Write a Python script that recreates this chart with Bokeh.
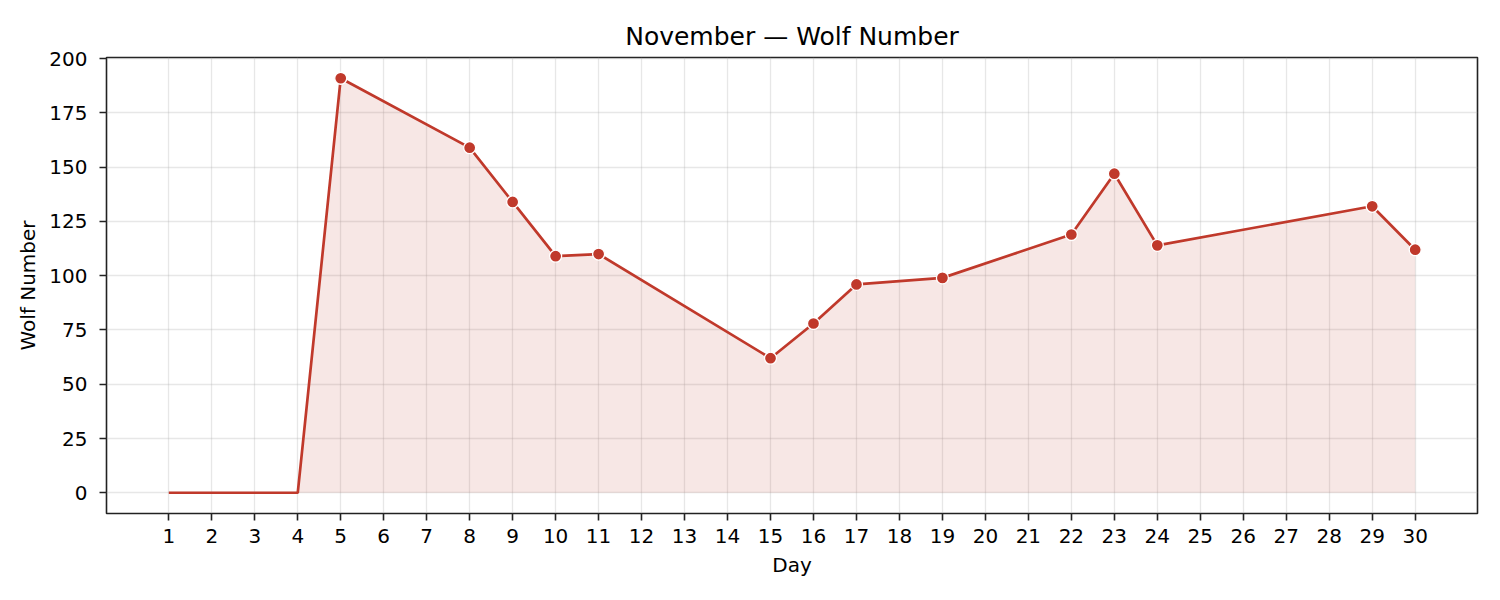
from bokeh.plotting import figure
from bokeh.models import Range1d, FixedTicker, ColumnDataSource
from bokeh.embed import file_html
from bokeh.resources import INLINE

# ---- data ----
obs_days = [1, 2, 3, 4, 5, 8, 9, 10, 11, 15, 16, 17, 19, 22, 23, 24, 29, 30]
wolf_number = [0, 0, 0, 0, 191, 159, 134, 109, 110, 62, 78, 96, 99, 119, 147, 114, 132, 112]
day_ticks = [1, 2, 3, 4, 5, 6, 7, 8, 9, 10, 11, 12, 13, 14, 15,
             16, 17, 18, 19, 20, 21, 22, 23, 24, 25, 26, 27, 28, 29, 30]
y_ticks = [0, 25, 50, 75, 100, 125, 150, 175, 200]

LINE = "#c0392b"
FONT = "DejaVu Sans"

src = ColumnDataSource(dict(x=obs_days, y=wolf_number, base=[0] * len(obs_days)))
mk = [(d, v) for d, v in zip(obs_days, wolf_number) if v > 0]
msrc = ColumnDataSource(dict(x=[m[0] for m in mk], y=[m[1] for m in mk]))

p = figure(width=1492, height=592, output_backend="svg", toolbar_location=None,
           x_range=Range1d(-0.45, 31.45), y_range=Range1d(-9.55, 200.55),
           min_border_left=106, min_border_right=15, min_border_top=57, min_border_bottom=79,
           title="November \u2014 Wolf Number")
p.background_fill_color = "white"
p.border_fill_color = "white"
p.outline_line_color = "#222222"
p.outline_line_width = 1.6
p.outline_line_alpha = 1.0

p.title.align = "center"
p.title.text_font = FONT
p.title.text_font_size = "25px"
p.title.text_font_style = "normal"
p.title.text_color = "black"
p.title.standoff = 13

p.varea(x="x", y1="base", y2="y", source=src, fill_color=LINE, fill_alpha=0.12)
p.line(x="x", y="y", source=src, line_color=LINE, line_width=2.7)
p.scatter(x="x", y="y", source=msrc, size=12, fill_color=LINE, line_color="white", line_width=1.3)

p.xaxis.ticker = FixedTicker(ticks=day_ticks)
p.yaxis.ticker = FixedTicker(ticks=y_ticks)
p.xaxis.axis_label = "Day"
p.yaxis.axis_label = "Wolf Number"

for ax in (p.xaxis, p.yaxis):
    ax.axis_line_color = None
    ax.major_tick_line_color = "#222222"
    ax.major_tick_line_width = 1.6
    ax.major_tick_out = 7
    ax.major_tick_in = 0
    ax.minor_tick_line_color = None
    ax.major_label_text_font = FONT
    ax.major_label_text_font_size = "20px"
    ax.major_label_text_color = "black"
    ax.axis_label_text_font = FONT
    ax.axis_label_text_font_size = "20px"
    ax.axis_label_text_font_style = "normal"
    ax.axis_label_text_color = "black"

p.xaxis.major_label_standoff = 8
p.xaxis.axis_label_standoff = 7
p.yaxis.major_label_standoff = 12
p.yaxis.axis_label_standoff = 6

for g in (p.xgrid, p.ygrid):
    g.grid_line_color = "#b0b0b0"
    g.grid_line_alpha = 0.3
    g.grid_line_width = 1.3
p.xgrid.ticker = FixedTicker(ticks=day_ticks)
p.ygrid.ticker = FixedTicker(ticks=y_ticks)

open("out.html", "w").write(file_html(p, INLINE))
